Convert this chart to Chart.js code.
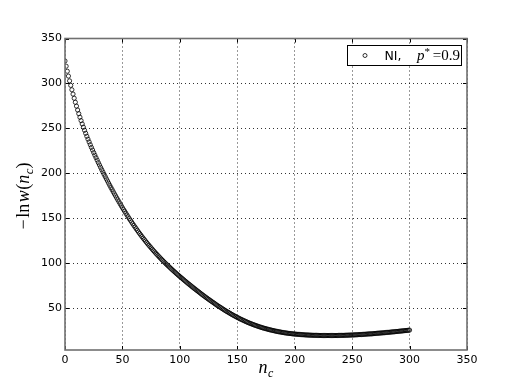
<!DOCTYPE html>
<html><head><meta charset="utf-8">
<script src="https://cdn.jsdelivr.net/npm/chart.js@4.4.0/dist/chart.umd.min.js"></script>
<style>html,body{margin:0;padding:0;background:#fff;} #wrap{width:520px;height:390px;position:relative;}</style>
</head><body><div id="wrap"><canvas id="c" width="520" height="390"></canvas></div>
<script>
// n_c values (x)
const nC = [
0,1,2,3,4,5,6,7,8,9,10,11,12,13,14,15,16,17,18,19,
20,21,22,23,24,25,26,27,28,29,30,31,32,33,34,35,36,37,38,39,
40,41,42,43,44,45,46,47,48,49,50,51,52,53,54,55,56,57,58,59,
60,61,62,63,64,65,66,67,68,69,70,71,72,73,74,75,76,77,78,79,
80,81,82,83,84,85,86,87,88,89,90,91,92,93,94,95,96,97,98,99,
100,101,102,103,104,105,106,107,108,109,110,111,112,113,114,115,116,117,118,119,
120,121,122,123,124,125,126,127,128,129,130,131,132,133,134,135,136,137,138,139,
140,141,142,143,144,145,146,147,148,149,150,151,152,153,154,155,156,157,158,159,
160,161,162,163,164,165,166,167,168,169,170,171,172,173,174,175,176,177,178,179,
180,181,182,183,184,185,186,187,188,189,190,191,192,193,194,195,196,197,198,199,
200,201,202,203,204,205,206,207,208,209,210,211,212,213,214,215,216,217,218,219,
220,221,222,223,224,225,226,227,228,229,230,231,232,233,234,235,236,237,238,239,
240,241,242,243,244,245,246,247,248,249,250,251,252,253,254,255,256,257,258,259,
260,261,262,263,264,265,266,267,268,269,270,271,272,273,274,275,276,277,278,279,
280,281,282,283,284,285,286,287,288,289,290,291,292,293,294,295,296,297,298,299,
300];
// -ln w(n_c) (y)
const negLnW = [
325.0,319.2,313.6,308.2,302.9,297.9,293.0,288.2,283.6,279.1,274.8,270.5,266.4,262.5,258.7,255.0,251.4,248.0,244.6,241.3,
238.1,235.0,231.9,228.9,226.0,223.1,220.3,217.5,214.8,212.0,209.4,206.7,204.1,201.6,199.0,196.5,194.0,191.6,189.1,186.7,
184.3,182.0,179.6,177.3,175.1,172.8,170.6,168.4,166.2,164.0,161.9,159.8,157.8,155.7,153.7,151.7,149.7,147.8,145.9,144.0,
142.1,140.3,138.5,136.7,134.9,133.2,131.5,129.8,128.1,126.5,124.9,123.3,121.7,120.2,118.7,117.2,115.7,114.2,112.8,111.4,
110.0,108.6,107.2,105.9,104.6,103.3,102.0,100.7,99.4,98.2,97.0,95.8,94.6,93.4,92.2,91.0,89.9,88.7,87.6,86.5,
85.4,84.3,83.2,82.1,81.0,80.0,78.9,77.8,76.8,75.8,74.7,73.7,72.7,71.7,70.7,69.7,68.7,67.7,66.7,65.7,
64.8,63.8,62.9,61.9,61.0,60.1,59.2,58.3,57.4,56.5,55.6,54.7,53.8,53.0,52.1,51.3,50.5,49.6,48.8,48.0,
47.2,46.4,45.7,44.9,44.2,43.4,42.7,42.0,41.3,40.6,39.9,39.3,38.6,38.0,37.4,36.8,36.2,35.6,35.0,34.5,
33.9,33.4,32.9,32.4,31.9,31.4,31.0,30.5,30.1,29.6,29.2,28.8,28.4,28.0,27.7,27.3,27.0,26.6,26.3,26.0,
25.7,25.4,25.1,24.8,24.5,24.3,24.0,23.8,23.6,23.3,23.1,22.9,22.7,22.5,22.3,22.2,22.0,21.9,21.7,21.6,
21.4,21.3,21.2,21.1,21.0,20.9,20.8,20.7,20.6,20.5,20.4,20.4,20.3,20.2,20.2,20.1,20.1,20.0,20.0,20.0,
19.9,19.9,19.9,19.8,19.8,19.8,19.8,19.8,19.8,19.8,19.8,19.8,19.8,19.8,19.8,19.8,19.8,19.8,19.9,19.9,
19.9,20.0,20.0,20.0,20.1,20.1,20.2,20.2,20.3,20.3,20.4,20.4,20.5,20.6,20.6,20.7,20.8,20.9,20.9,21.0,
21.1,21.2,21.3,21.4,21.5,21.6,21.6,21.7,21.8,21.9,22.1,22.2,22.3,22.4,22.5,22.6,22.7,22.8,22.9,23.1,
23.2,23.3,23.4,23.5,23.7,23.8,23.9,24.0,24.2,24.3,24.4,24.6,24.7,24.8,25.0,25.1,25.2,25.4,25.5,25.6,
25.8];
const xTicks = [0,50,100,150,200,250,300,350];
const yTicks = [50,100,150,200,250,300,350];
const xRange = [0,350];
const yRange = [3.7,350];

const points = nC.map((n,i)=>({x:n, y:negLnW[i]}));

function drawRich(ctx, pieces, x, y) {
  let cx = x;
  for (const p of pieces) {
    ctx.font = p.font;
    ctx.fillText(p.t, cx + (p.dx||0), y + (p.dy||0));
    cx += ctx.measureText(p.t).width + (p.dx||0) + (p.after||0);
  }
  return cx - x;
}
function richWidth(ctx, pieces) {
  let w = 0;
  for (const p of pieces) { ctx.font = p.font; w += ctx.measureText(p.t).width + (p.dx||0) + (p.after||0); }
  return w;
}

const decor = {
  id: 'decor',
  afterDraw(chart) {
    const ctx = chart.ctx, a = chart.chartArea;
    const xs = chart.scales.x, ys = chart.scales.y;
    ctx.save();
    // tick marks inward
    ctx.strokeStyle = '#000'; ctx.lineWidth = 1; ctx.setLineDash([]);
    ctx.beginPath();
    for (const v of xTicks) {
      const px = Math.round(xs.getPixelForValue(v)) + 0.5;
      ctx.moveTo(px, a.bottom); ctx.lineTo(px, a.bottom - 4);
      ctx.moveTo(px, a.top); ctx.lineTo(px, a.top + 4);
    }
    for (const v of yTicks) {
      const py = Math.round(ys.getPixelForValue(v)) + 0.5;
      ctx.moveTo(a.left, py); ctx.lineTo(a.left + 4, py);
      ctx.moveTo(a.right, py); ctx.lineTo(a.right - 4, py);
    }
    ctx.stroke();
    // frame
    ctx.strokeStyle = '#707070'; ctx.lineWidth = 1.6;
    ctx.strokeRect(a.left, a.top, a.right - a.left, a.bottom - a.top);

    ctx.fillStyle = '#000';
    ctx.textBaseline = 'alphabetic';
    const serif = '"Liberation Serif", "DejaVu Serif", serif';
    // x label  n_c
    const xl = [
      {t:'n', font:'italic 18px ' + serif},
      {t:'c', font:'italic 12px ' + serif, dy:4, dx:0.5}
    ];
    const xw = richWidth(ctx, xl);
    drawRich(ctx, xl, 266 - xw/2, 373);
    // y label  −ln w(n_c)
    const yl = [
      {t:'\u2212', font:'18px ' + serif, after:1.5},
      {t:'ln', font:'18px ' + serif, after:1.5},
      {t:'w', font:'italic 18px ' + serif, after:0.5},
      {t:'(', font:'18px ' + serif},
      {t:'n', font:'italic 18px ' + serif},
      {t:'c', font:'italic 13px ' + serif, dy:4, dx:0.5},
      {t:')', font:'18px ' + serif}
    ];
    const yw = richWidth(ctx, yl);
    ctx.save();
    ctx.translate(29, 196);
    ctx.rotate(-Math.PI/2);
    drawRich(ctx, yl, -yw/2, 0);
    ctx.restore();
    // legend box
    ctx.fillStyle = '#fff';
    ctx.fillRect(347, 45, 115, 20);
    ctx.strokeStyle = '#000'; ctx.lineWidth = 1;
    ctx.strokeRect(347.5, 45.5, 114, 20);
    ctx.beginPath(); ctx.arc(365, 55.5, 2, 0, Math.PI*2);
    ctx.lineWidth = 0.8; ctx.stroke();
    ctx.fillStyle = '#000';
    ctx.font = '12.5px "DejaVu Sans", sans-serif';
    ctx.fillText('NI,', 384.5, 59.5);
    ctx.font = 'italic 15px ' + serif;
    ctx.fillText('p', 417, 59.5);
    ctx.font = '11px ' + serif;
    ctx.fillText('*', 424.5, 55);
    ctx.font = '15px ' + serif;
    ctx.textAlign = 'right';
    ctx.fillText('=0.9', 460, 59.5);
    ctx.restore();
  }
};

new Chart(document.getElementById('c'), {
  type: 'scatter',
  data: { datasets: [{
    label: 'NI, p* =0.9',
    data: points,
    showLine: false,
    pointRadius: 2.1,
    pointHoverRadius: 2.1,
    pointBorderWidth: 0.8,
    borderColor: '#000',
    backgroundColor: 'rgba(0,0,0,0)',
    pointBackgroundColor: 'rgba(0,0,0,0)',
    pointBorderColor: '#000'
  }]},
  options: {
    responsive: false,
    animation: false,
    events: [],
    layout: { padding: { left: 0, top: 38.5, right: 53, bottom: 0 } },
    plugins: { legend: { display: false }, tooltip: { enabled: false } },
    scales: {
      x: {
        type: 'linear', min: xRange[0], max: xRange[1],
        afterBuildTicks: ax => { ax.ticks = xTicks.map(v => ({value: v})); },
        afterFit: ax => { ax.height = 40; },
        grid: { color: 'rgba(0,0,0,0.8)', lineWidth: 1, drawTicks: false },
        border: { display: false, dash: [1, 3] },
        ticks: { padding: 4, color: '#000', font: { family: '"DejaVu Sans"', size: 11 }, maxRotation: 0 }
      },
      y: {
        type: 'linear', min: yRange[0], max: yRange[1],
        afterBuildTicks: ax => { ax.ticks = yTicks.map(v => ({value: v})); },
        afterFit: ax => { ax.width = 65; },
        grid: { color: 'rgba(0,0,0,0.8)', lineWidth: 1, drawTicks: false },
        border: { display: false, dash: [1, 3] },
        ticks: { padding: 3, color: '#000', font: { family: '"DejaVu Sans"', size: 11 } }
      }
    }
  },
  plugins: [decor]
});
</script>
</body></html>
